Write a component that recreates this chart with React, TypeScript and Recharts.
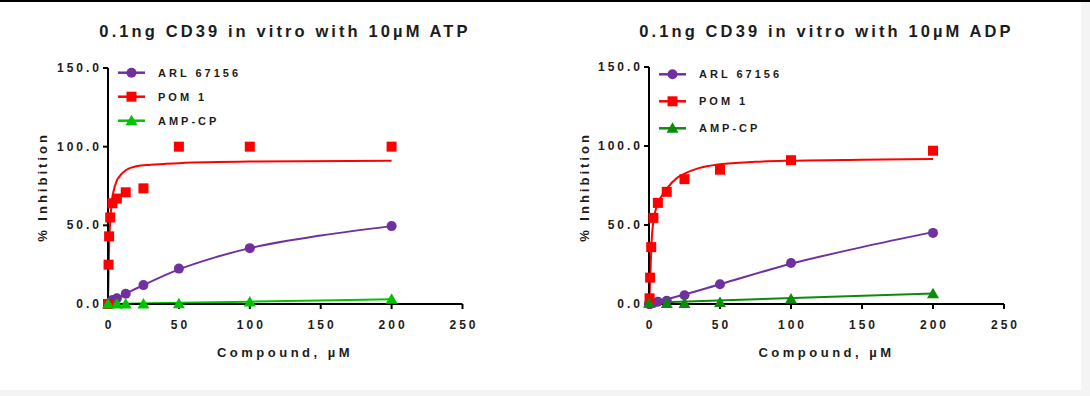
import { ComposedChart, Line, Scatter, XAxis, YAxis, Legend } from 'recharts'

// shared dilution series (µM) and axis ticks
const doses = [0, 0.39, 0.78, 1.56, 3.125, 6.25, 12.5, 25, 50, 100, 200]
const xTicks = [0, 50, 100, 150, 200, 250]
const yTicks = [0, 50, 100, 150]
const seriesNames = ['ARL 67156', 'POM 1', 'AMP-CP']

// 10µM ATP panel - measured % inhibition per dose (null = no point)
const atpArl = [0, null, 0.5, 1, 2.5, 3.6, 6.5, 12, 22.5, 35.5, 49.5]
const atpPom = [0, 25, 43, 55, 64, 67, 71, 73.5, 100, 100, 100]
const atpAmp = [0, null, null, null, null, 0, 0, 0, 0.2, 1.2, 3]

// 10µM ATP panel - fitted curves as [dose, %]
const atpArlFit = [[0, 0], [12.5, 6.5], [25, 12], [50, 22], [75, 29.5], [100, 35.5], [150, 43.5], [200, 49.5]]
const atpPomFit = [[0, 0], [0.5, 25], [1, 42], [2, 58], [3, 67], [4, 72], [6, 78], [8, 81], [12.5, 85], [20, 87.5], [30, 88.5], [50, 89.5], [100, 90.5], [200, 91]]
const atpAmpFit = [[0, 0], [100, 1.5], [200, 3]]

// 10µM ADP panel
const adpArl = [0, 0, 0, 0.3, 0.6, 1.5, 2, 5.5, 12.5, 26, 45]
const adpPom = [null, 3.6, 16.7, 36, 54.5, 64, 71, 79, 85, 91, 97]
const adpAmp = [0.5, null, null, null, null, null, 0.3, 0.3, 1, 3.2, 6.5]

const adpArlFit = [[0, 0], [25, 6], [50, 12.5], [100, 25.5], [150, 36], [200, 45.5]]
const adpPomFit = [[0, 0], [0.5, 8], [1, 20], [2, 42], [3, 52], [4, 57], [6.25, 64], [9, 68.5], [12.5, 73], [20, 80], [25, 82.5], [35, 86], [50, 88.5], [75, 90], [100, 90.7], [150, 91.3], [200, 91.7]]
const adpAmpFit = [[0, 0.8], [200, 6.6]]

const FONT = '"Liberation Sans", Arial, sans-serif'
const TEXT = '#1c1c1c'
const PURPLE = '#7030a0'
const RED = '#ff0000'

const pts = (ys: (number | null)[]) =>
  doses.map((x, i) => ({ x, y: ys[i] })).filter(p => p.y !== null)
const fit = (pairs: number[][]) => pairs.map(([x, y]) => ({ x, y }))

function marker(kind: string, cx: number, cy: number, color: string) {
  if (kind === 'circle') return <circle cx={cx} cy={cy} r={5} fill={color} />
  if (kind === 'square') return <rect x={cx - 5} y={cy - 5} width={10} height={10} fill={color} />
  return <polygon points={`${cx},${cy - 6} ${cx + 6},${cy + 4.5} ${cx - 6},${cy + 4.5}`} fill={color} />
}

const kinds = ['circle', 'square', 'triangle']

function LegendBox({ colors, rowGap, startY }: { colors: string[]; rowGap: number; startY: number }) {
  return (
    <svg width={200} height={90}>
      {seriesNames.map((name, i) => {
        const y = startY + i * rowGap
        return (
          <g key={name}>
            <line x1={8} x2={35} y1={y} y2={y} stroke={colors[i]} strokeWidth={2.5} />
            {marker(kinds[i], 21.5, y, colors[i])}
            <text x={48} y={y + 4} fontFamily={FONT} fontSize={11} fontWeight="bold" letterSpacing={3} fill={TEXT}>
              {name}
            </text>
          </g>
        )
      })}
    </svg>
  )
}

interface PanelProps {
  title: string
  left: number
  margin: { top: number; right: number; bottom: number; left: number }
  plotCenter: number
  colors: string[]
  points: (number | null)[][]
  fits: number[][][]
  legendLeft: number
  rowGap: number
  startY: number
}

function Panel({ title, left, margin, plotCenter, colors, points, fits, legendLeft, rowGap, startY }: PanelProps) {
  return (
    <div style={{ position: 'absolute', left, top: 0, width: 545, height: 396 }}>
      <div style={{ position: 'absolute', left: plotCenter - 250, top: 21, width: 500, textAlign: 'center', fontFamily: FONT, fontWeight: 'bold', fontSize: 16.5, lineHeight: '20px', letterSpacing: 3.1, color: TEXT }}>
        {title}
      </div>
      <ComposedChart width={545} height={396} margin={margin}>
        <XAxis
          type="number"
          dataKey="x"
          domain={[0, 250]}
          ticks={xTicks}
          stroke="#000"
          strokeWidth={2}
          tickSize={5}
          tick={(p: any) => (
            <text x={p.x + 1.5} y={p.y + 18} textAnchor="middle" fontFamily={FONT} fontSize={12} fontWeight="bold" letterSpacing={3} fill={TEXT}>
              {p.payload.value}
            </text>
          )}
        />
        <YAxis
          type="number"
          dataKey="y"
          domain={[0, 150]}
          ticks={yTicks}
          width={60}
          stroke="#000"
          strokeWidth={2}
          tickSize={5}
          tick={(p: any) => (
            <text x={p.x + 1} y={p.y + 4} textAnchor="end" fontFamily={FONT} fontSize={12} fontWeight="bold" letterSpacing={3} fill={TEXT}>
              {Number(p.payload.value).toFixed(1)}
            </text>
          )}
        />
        <Legend
          layout="vertical"
          verticalAlign="middle"
          align="center"
          wrapperStyle={{ left: legendLeft, top: 60, width: 200, height: 90 }}
          content={() => <LegendBox colors={colors} rowGap={rowGap} startY={startY} />}
        />
        {fits.map((f, i) => (
          <Line key={'fit' + i} data={fit(f)} dataKey="y" type="monotone" stroke={colors[i]} strokeWidth={2} dot={false} legendType="none" isAnimationActive={false} />
        ))}
        {points.map((ys, i) => (
          <Scatter
            key={'pts' + i}
            data={pts(ys)}
            dataKey="y"
            fill={colors[i]}
            legendType="none"
            isAnimationActive={false}
            shape={(p: any) => marker(kinds[i], p.cx, p.cy, colors[i])}
          />
        ))}
      </ComposedChart>
      <div style={{ position: 'absolute', left: plotCenter - 150, top: 343, width: 300, textAlign: 'center', fontFamily: FONT, fontWeight: 'bold', fontSize: 13, lineHeight: '20px', letterSpacing: 3.5, color: TEXT }}>
        Compound, µM
      </div>
      <div style={{ position: 'absolute', left: plotCenter - 242 - 100, top: 177, width: 200, height: 20, textAlign: 'center', transform: 'rotate(-90deg)', fontFamily: FONT, fontWeight: 'bold', fontSize: 13, lineHeight: '20px', letterSpacing: 3, color: TEXT }}>
        % Inhibition
      </div>
    </div>
  )
}

export default function App() {
  return (
    <div style={{ position: 'absolute', left: 0, top: 0, width: 1090, height: 396, background: '#f4f4f4', overflow: 'hidden' }}>
      <div style={{ position: 'absolute', left: 0, top: 2, width: 1081, height: 388, background: '#fff' }} />
      <div style={{ position: 'absolute', left: 0, top: 0, width: 1090, height: 2, background: '#000' }} />
      <Panel
        title="0.1ng CD39 in vitro with 10µM ATP"
        left={0}
        margin={{ top: 68, right: 82.5, bottom: 62, left: 48 }}
        plotCenter={285}
        colors={[PURPLE, RED, '#00c400']}
        points={[atpArl, atpPom, atpAmp]}
        fits={[atpArlFit, atpPomFit, atpAmpFit]}
        legendLeft={110}
        rowGap={24}
        startY={12.7}
      />
      <Panel
        title="0.1ng CD39 in vitro with 10µM ADP"
        left={545}
        margin={{ top: 67, right: 86, bottom: 62, left: 44 }}
        plotCenter={281.5}
        colors={[PURPLE, RED, '#0b8a0b']}
        points={[adpArl, adpPom, adpAmp]}
        fits={[adpArlFit, adpPomFit, adpAmpFit]}
        legendLeft={106}
        rowGap={27}
        startY={14.3}
      />
    </div>
  )
}
